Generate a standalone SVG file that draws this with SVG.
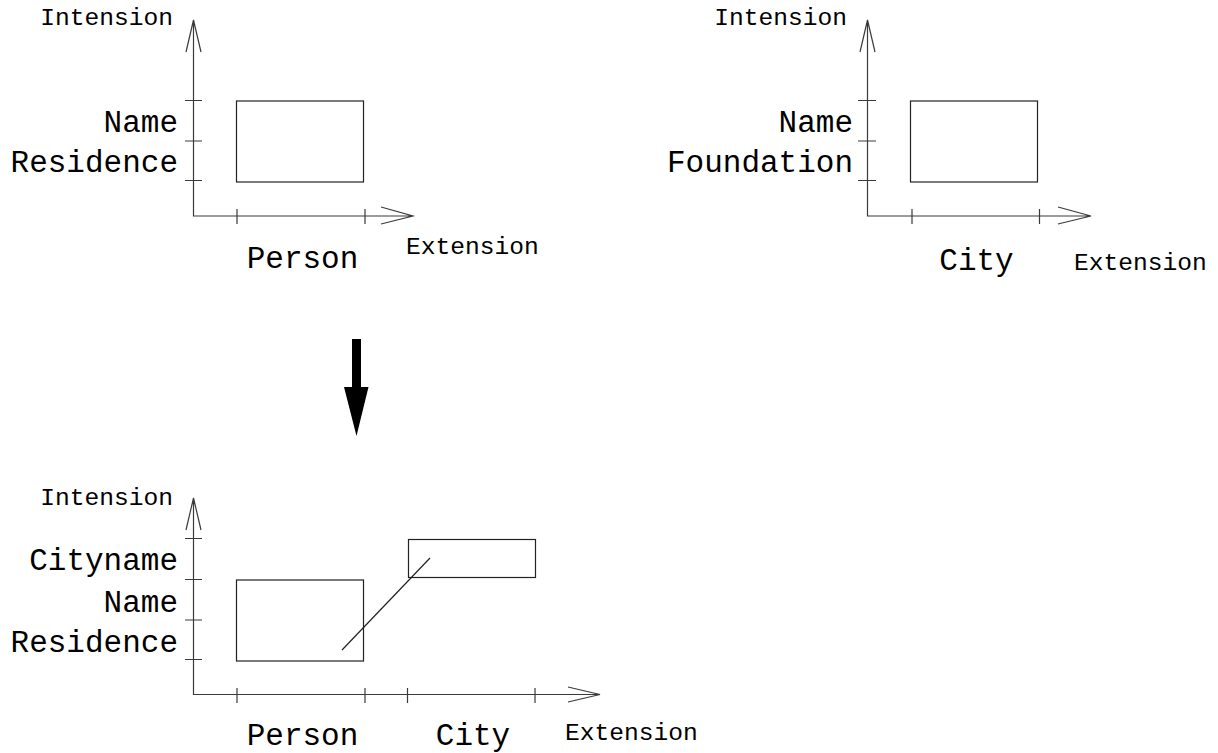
<svg xmlns="http://www.w3.org/2000/svg" width="1218" height="753" viewBox="0 0 1218 753">
  <style>
    .ax { stroke: #3a3a3a; stroke-width: 1.2; fill: none; }
    .box { stroke: #222; stroke-width: 1.2; fill: none; }
    .big { font-family: "Courier New", "Nimbus Mono PS", "Liberation Mono", monospace; font-size: 31px; fill: #000; }
    .small { font-family: "Courier New", "Nimbus Mono PS", "Liberation Mono", monospace; font-size: 24.6px; fill: #000; }
  </style>

  <!-- Person: intension / extension plot -->
  <g id="person-plot">
    <path class="ax" d="M193.5,20 V216 H413 M186,52 L193.5,20 L201,52 M381,207 L413,216 L381,224"/>
    <path class="ax" d="M185,100.5 H202 M185,141 H202 M185,180.5 H202 M237,209 V224 M365,209 V224"/>
    <rect class="box" x="236.5" y="101" width="127" height="81"/>
    <text class="small" x="173" y="25" text-anchor="end">Intension</text>
    <text class="big" x="178" y="132" text-anchor="end">Name</text>
    <text class="big" x="178" y="172" text-anchor="end">Residence</text>
    <text class="big" x="302.5" y="268" text-anchor="middle">Person</text>
    <text class="small" x="406" y="254">Extension</text>
  </g>

  <!-- City: intension / extension plot -->
  <g id="city-plot">
    <path class="ax" d="M867.5,20 V216 H1091 M860,52 L867.5,20 L875,52 M1058,207 L1091,216 L1058,224"/>
    <path class="ax" d="M858,100.5 H876 M858,141 H876 M858,180.5 H876 M912,209 V224 M1039.5,209 V224"/>
    <rect class="box" x="910.5" y="101" width="127" height="81"/>
    <text class="small" x="847" y="25" text-anchor="end">Intension</text>
    <text class="big" x="853" y="132" text-anchor="end">Name</text>
    <text class="big" x="853" y="172" text-anchor="end">Foundation</text>
    <text class="big" x="976.5" y="270" text-anchor="middle">City</text>
    <text class="small" x="1074" y="270">Extension</text>
  </g>

  <!-- Transformation arrow -->
  <g id="transform-arrow">
    <path d="M352,339 H361 V387 H368.5 L356.5,436 L344,387 H352 Z" fill="#000"/>
  </g>

  <!-- Combined plot: Person with linked City -->
  <g id="combined-plot">
    <path class="ax" d="M193.5,498 V694.5 H600 M186,530 L193.5,498 L201,530 M568,687 L600,694.5 L568,702"/>
    <path class="ax" d="M185,538.5 H202 M185,579.5 H202 M185,620 H202 M185,659.5 H202 M237,688 V703 M365,688 V703 M407.5,688 V703 M535,688 V703"/>
    <rect class="box" x="236.5" y="580" width="127" height="81"/>
    <rect class="box" x="408.5" y="539.5" width="127" height="38"/>
    <text class="small" x="173" y="505" text-anchor="end">Intension</text>
    <text class="big" x="178" y="570" text-anchor="end">Cityname</text>
    <text class="big" x="178" y="612" text-anchor="end">Name</text>
    <text class="big" x="178" y="652" text-anchor="end">Residence</text>
    <text class="big" x="302.5" y="745" text-anchor="middle">Person</text>
    <text class="big" x="473" y="745" text-anchor="middle">City</text>
    <text class="small" x="565" y="740">Extension</text>
  </g>

  <!-- Reference link from Residence to City -->
  <g id="connectors">
    <line class="box" x1="342" y1="650" x2="430" y2="558"/>
  </g>
</svg>
